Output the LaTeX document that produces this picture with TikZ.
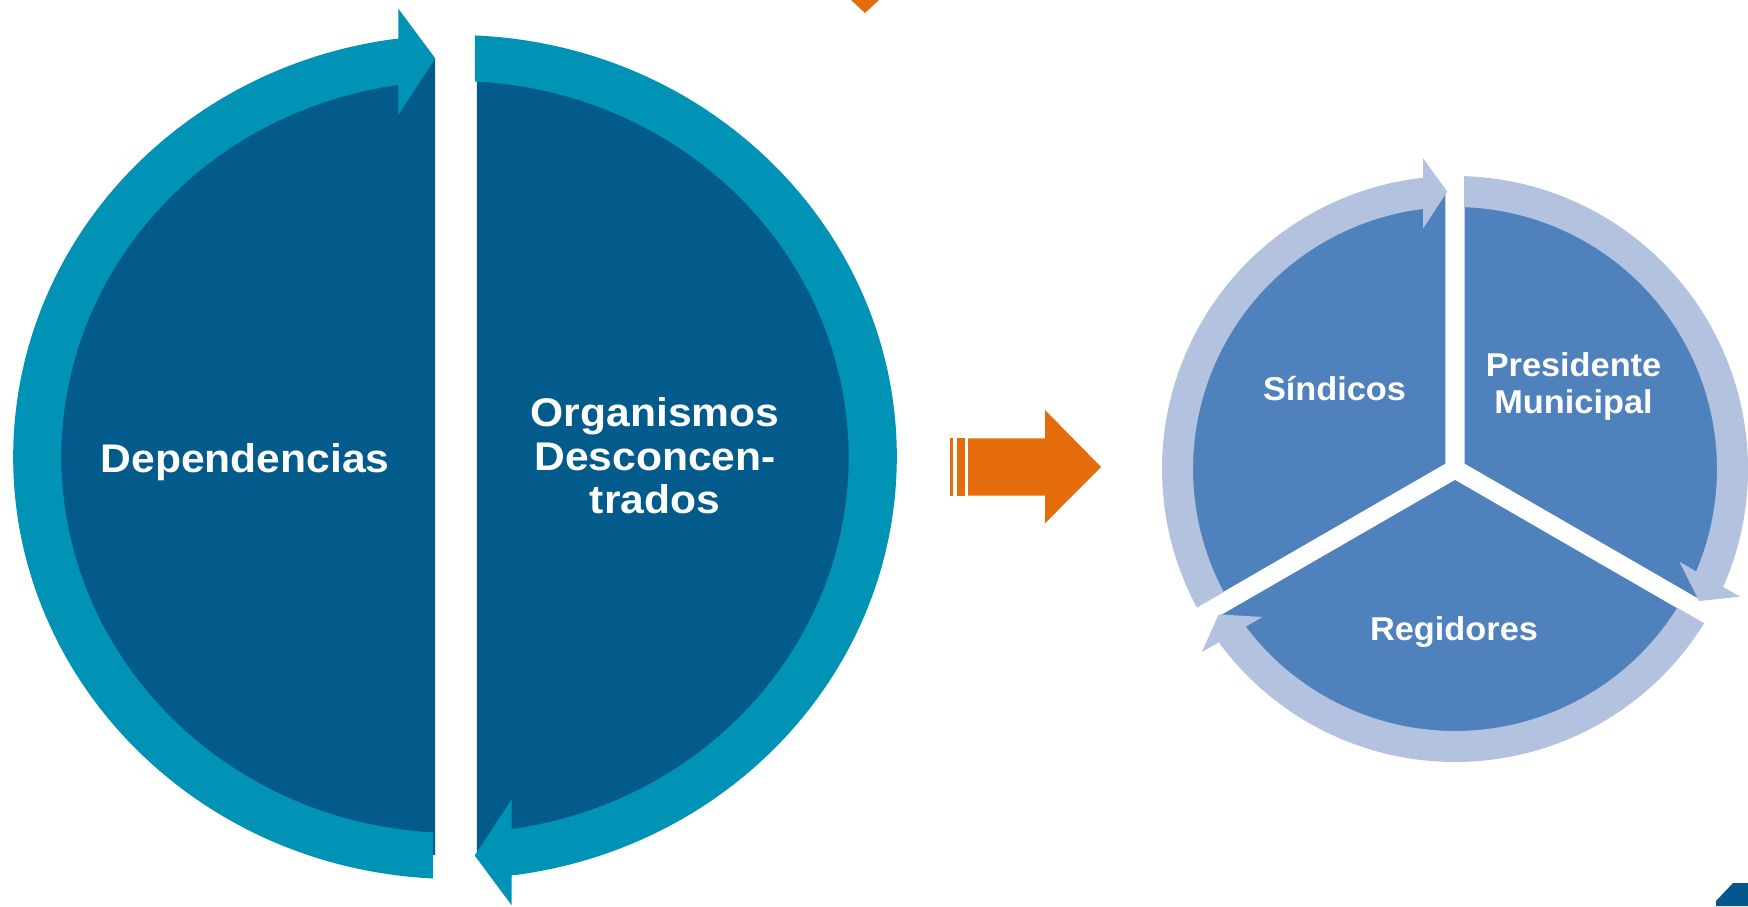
\documentclass[tikz,border=0pt]{standalone}
\usepackage{fontspec}
\setmainfont{Liberation Sans}
\definecolor{teal}{HTML}{0093B6}
\definecolor{darkblue}{HTML}{035B8C}
\definecolor{pieblue}{HTML}{4F81BD}
\definecolor{lightring}{HTML}{B3C2DE}
\definecolor{orangec}{HTML}{E46C0A}
\definecolor{cornerblue}{HTML}{05568A}
% colour in \rc
% #1 outer start, #2 inner start, #3 wing angle, #4 tip angle, #5 wing-line direction,
% #6 Rin, #7 Rout, #8 mid radius, #9 half head height
\newcommand\ringarrow[9]{%
  \fill[\rc] (#1:#7) arc[start angle=#1, end angle=#3, radius=#7]
    -- ({#8*cos(#3)+(#7-#8)*cos(#5)},{#8*sin(#3)+(#7-#8)*sin(#5)})
    -- ({#8*cos(#3)+#9*cos(#5)},{#8*sin(#3)+#9*sin(#5)})
    -- (#4:#8)
    -- ({#8*cos(#3)-#9*cos(#5)},{#8*sin(#3)-#9*sin(#5)})
    -- ({#8*cos(#3)-(#8-#6)*cos(#5)},{#8*sin(#3)-(#8-#6)*sin(#5)})
    -- (#3:#6) arc[start angle=#3, end angle=#2, radius=#6] -- cycle;}
\newcommand\wtxt[1]{\scalebox{1.065}[1]{#1}}
\newcommand\stxt[1]{\scalebox{1.04}[1]{#1}}
\tikzset{
  bigtxt/.style={text=white, font=\fontsize{40}{44}\selectfont\bfseries, anchor=base, inner sep=0pt},
  smalltxt/.style={text=white, font=\fontsize{33}{37}\selectfont\bfseries, anchor=base, inner sep=0pt},
}
\begin{document}
\begin{tikzpicture}[x=1pt,y=1pt]
\useasboundingbox (0,0) rectangle (1748,906);
\fill[white] (0,0) rectangle (1748,906);
% left cycle
\begin{scope}[shift={(455,449)}, xscale=1.047]
  \fill[darkblue] ([shift={(-19,0)}]90:398) arc[start angle=90, end angle=270, radius=398] -- cycle;
  \fill[darkblue] ([shift={(21,0)}]-90:398) arc[start angle=-90, end angle=90, radius=398] -- cycle;
  \def\rc{teal}
  \ringarrow{267.15}{266.80}{97.8}{92.7}{90}{376}{422}{399}{53}
  \ringarrow{87.41}{87.09}{-82.2}{-87.3}{270}{376}{422}{399}{53}
\end{scope}
\node[bigtxt] (dep) at (245,433.5) {\wtxt{Dependencias}};
\node[bigtxt] (org1) at (655,479.7) {\wtxt{Organismos}};
\node[bigtxt] (org2) at (655,435.7) {\wtxt{Desconcen-}};
\node[bigtxt] (org3) at (655,392.7) {\wtxt{trados}};
% orange arrow
\fill[orangec] (950,410.3) rectangle (953.3,467.7);
\fill[orangec] (957.3,410.3) rectangle (964.7,467.7);
\fill[orangec] (968,410.3) -- (1045,410.3) -- (1045,382.7) -- (1101,439) -- (1045,496) -- (1045,467.7) -- (968,467.7) -- cycle;
% right cycle
\begin{scope}[shift={(1455,437)}]
  \foreach \b in {30,150,270}{
    \fill[pieblue] ([shift={(\b:11)}]0,0) -- ([shift={(\b:11)}]\b-60:270) arc[start angle=\b-60, end angle=\b+60, radius=270] -- cycle;
  }
  \def\rc{lightring}
  \ringarrow{88.24}{88.03}{-23.4}{-28.4}{330}{262}{293}{277.5}{35}
  \ringarrow{-31.76}{-31.97}{-143.4}{-148.4}{210}{262}{293}{277.5}{35}
  \ringarrow{208.24}{208.03}{96.6}{91.6}{90}{262}{293}{277.5}{35}
\end{scope}
\node[smalltxt] (sin) at (1334.5,505.8) {\stxt{Síndicos}};
\node[smalltxt] (pre1) at (1573.5,529.3) {\stxt{Presidente}};
\node[smalltxt] (pre2) at (1573.5,492.3) {\stxt{Municipal}};
\node[smalltxt] (reg) at (1454,266) {\stxt{Regidores}};
% partial shapes at the edges
\fill[orangec] (851,906) -- (879,906) -- (865,893) -- cycle;
\fill[cornerblue] (1716,0) -- (1716,5) -- (1733,23) -- (1748,23) -- (1748,0) -- cycle;
\end{tikzpicture}
\end{document}
